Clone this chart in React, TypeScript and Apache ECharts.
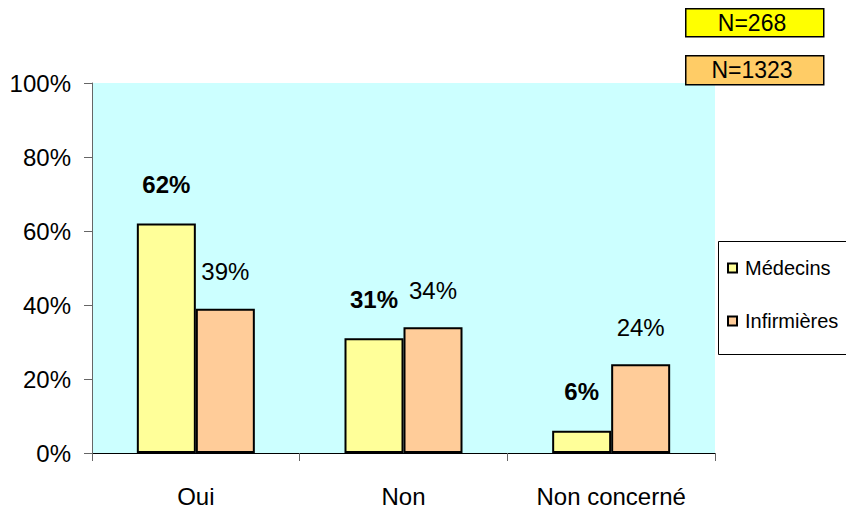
import React, { useEffect, useRef } from "react";
import * as echarts from "echarts";

const categories = ["Oui", "Non", "Non concerné"];
const medecins = [62, 31, 6];
const infirmieres = [39, 34, 24];
const yTicks = [0, 20, 40, 60, 80, 100];
const seriesNames = ["Médecins", "Infirmières"];
const nLabels = ["N=268", "N=1323"];

const FONT = "'Liberation Sans', Arial, sans-serif";

export default function App() {
  const ref = useRef<HTMLDivElement>(null);
  useEffect(() => {
    if (!ref.current) return;
    const chart = echarts.init(ref.current, undefined, { renderer: "svg" });
    chart.setOption({
      animation: false,
      backgroundColor: "#ffffff",
      textStyle: { fontFamily: FONT },
      grid: {
        left: 92,
        right: 131,
        top: 83,
        bottom: 60,
        show: true,
        backgroundColor: "#CCFFFF",
        borderWidth: 0,
        containLabel: false,
        outerBoundsMode: "none",
      },
      legend: {
        orient: "vertical",
        left: 727,
        top: 258,
        itemGap: 33,
        itemWidth: 9,
        itemHeight: 9,
        icon: "rect",
        padding: 0,
        textStyle: { fontSize: 20, fontFamily: FONT, color: "#000", padding: [0, 0, 0, 3] },
        data: seriesNames,
      },
      xAxis: {
        type: "category",
        data: categories,
        axisLine: { lineStyle: { color: "#000", width: 1 } },
        axisTick: { show: true, length: 8, inside: false, lineStyle: { color: "#666" } },
        axisLabel: { fontSize: 24, color: "#000", margin: 31, interval: 0, fontFamily: FONT },
      },
      yAxis: {
        type: "value",
        min: 0,
        max: 100,
        interval: 20,
        axisLine: { show: true, lineStyle: { color: "#666" } },
        axisTick: { show: true, length: 8, lineStyle: { color: "#666" } },
        splitLine: { show: false },
        axisLabel: {
          fontSize: 24,
          color: "#000",
          margin: 21,
          fontFamily: FONT,
          formatter: (v: number) => (yTicks.includes(v) ? v + "%" : ""),
        },
      },
      series: [
        {
          name: seriesNames[0],
          type: "bar",
          data: medecins,
          barWidth: 59,
          barGap: "0%",
          itemStyle: { color: "#FFFF99", borderColor: "#000", borderWidth: 2 },
          label: {
            show: true,
            position: "top",
            distance: 27,
            formatter: "{c}%",
            fontSize: 24,
            fontWeight: "bold",
            color: "#000",
            fontFamily: FONT,
          },
        },
        {
          name: seriesNames[1],
          type: "bar",
          data: infirmieres,
          barWidth: 59,
          barGap: "0%",
          itemStyle: { color: "#FFCC99", borderColor: "#000", borderWidth: 2 },
          label: {
            show: true,
            position: "top",
            distance: 25,
            formatter: "{c}%",
            fontSize: 24,
            color: "#000",
            fontFamily: FONT,
          },
        },
      ],
      graphic: [
        {
          type: "rect",
          left: 718,
          top: 241,
          shape: { width: 140, height: 113 },
          style: { fill: "#fff", stroke: "#000", lineWidth: 1 },
          z: -1,
        },
        {
          type: "rect",
          left: 685,
          top: 8,
          shape: { width: 138, height: 28 },
          style: { fill: "#FFFF00", stroke: "#000", lineWidth: 1.5 },
        },
        {
          type: "text",
          x: 752,
          y: 23,
          style: {
            text: nLabels[0],
            fontSize: 23,
            fontFamily: FONT,
            fill: "#000",
            align: "center",
            verticalAlign: "middle",
          },
        },
        {
          type: "rect",
          left: 685,
          top: 55,
          shape: { width: 138, height: 29 },
          style: { fill: "#FFCC66", stroke: "#000", lineWidth: 1.5 },
        },
        {
          type: "text",
          x: 752,
          y: 70,
          style: {
            text: nLabels[1],
            fontSize: 23,
            fontFamily: FONT,
            fill: "#000",
            align: "center",
            verticalAlign: "middle",
          },
        },
      ],
    });
    return () => chart.dispose();
  }, []);
  return <div ref={ref} style={{ width: 846, height: 513, position: "absolute", left: 0, top: 0 }} />;
}
